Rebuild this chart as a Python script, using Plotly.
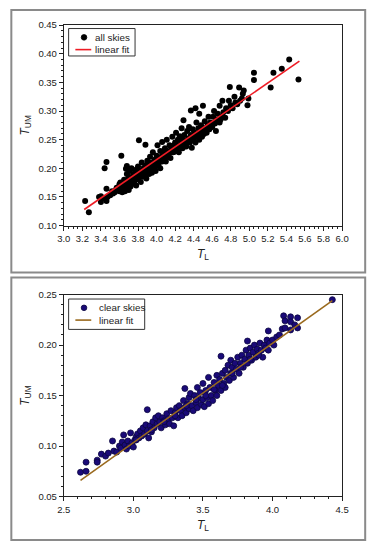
import plotly.graph_objects as go

# ---------------- data: all skies (top panel) ----------------
all_tl = [3.23, 3.27, 3.38, 3.40, 3.40, 3.42, 3.44, 3.46, 3.46, 3.46, 3.47, 3.50, 3.52, 3.53, 3.55, 3.56,
          3.58, 3.60, 3.60, 3.61, 3.62, 3.62, 3.63, 3.64, 3.65, 3.65, 3.66, 3.66, 3.67, 3.68, 3.68, 3.69,
          3.69, 3.70, 3.70, 3.71, 3.72, 3.72, 3.73, 3.74, 3.74, 3.75, 3.76, 3.77, 3.77, 3.78, 3.79, 3.80,
          3.80, 3.81, 3.82, 3.82, 3.83, 3.84, 3.85, 3.85, 3.86, 3.87, 3.88, 3.88, 3.89, 3.90, 3.90, 3.91,
          3.92, 3.93, 3.94, 3.95, 3.95, 3.96, 3.97, 3.98, 3.98, 3.99, 4.00, 4.00, 4.01, 4.02, 4.03, 4.04,
          4.04, 4.05, 4.06, 4.06, 4.07, 4.08, 4.09, 4.10, 4.10, 4.11, 4.12, 4.13, 4.14, 4.15, 4.16, 4.17,
          4.18, 4.19, 4.20, 4.20, 4.21, 4.22, 4.23, 4.24, 4.25, 4.26, 4.27, 4.28, 4.28, 4.29, 4.30, 4.31,
          4.32, 4.33, 4.34, 4.35, 4.36, 4.37, 4.37, 4.38, 4.39, 4.40, 4.41, 4.42, 4.42, 4.43, 4.44, 4.45,
          4.46, 4.46, 4.47, 4.48, 4.49, 4.50, 4.50, 4.51, 4.52, 4.53, 4.54, 4.55, 4.56, 4.57, 4.58, 4.60,
          4.61, 4.62, 4.63, 4.64, 4.65, 4.66, 4.68, 4.68, 4.70, 4.71, 4.72, 4.74, 4.75, 4.77, 4.78, 4.79,
          4.80, 4.82, 4.84, 4.85, 4.87, 4.89, 4.90, 4.92, 4.93, 4.94, 4.98, 4.99, 5.05, 5.05, 5.23, 5.26,
          5.35, 5.43, 5.53,
          3.57, 3.63, 3.68, 3.72, 3.76, 3.79, 3.84, 3.87, 3.91, 3.94, 3.97, 4.02, 4.05, 4.08, 4.12, 4.15,
          4.18, 4.22, 4.25, 4.29, 4.33, 4.36, 4.40, 4.44, 4.48, 4.52, 4.56, 4.60, 4.64, 4.69,
          3.66, 3.74, 3.81, 3.89, 3.96, 4.03, 4.11, 4.19, 4.27, 4.34, 4.41, 4.47, 4.54, 4.61]
all_tum = [0.143, 0.123, 0.150, 0.141, 0.151, 0.147, 0.200, 0.211, 0.164, 0.143, 0.150, 0.153, 0.160, 0.156, 0.158, 0.162,
           0.165, 0.172, 0.160, 0.175, 0.222, 0.168, 0.158, 0.163, 0.170, 0.180, 0.176, 0.160, 0.199, 0.204, 0.190, 0.172,
           0.165, 0.185, 0.162, 0.195, 0.178, 0.168, 0.200, 0.183, 0.173, 0.190, 0.176, 0.197, 0.186, 0.170, 0.192, 0.181,
           0.203, 0.249, 0.188, 0.196, 0.176, 0.210, 0.195, 0.185, 0.200, 0.190, 0.241, 0.205, 0.182, 0.198, 0.213, 0.205,
           0.190, 0.220, 0.200, 0.210, 0.192, 0.228, 0.207, 0.215, 0.200, 0.195, 0.222, 0.210, 0.240, 0.205, 0.215, 0.230,
           0.200, 0.220, 0.246, 0.212, 0.228, 0.218, 0.235, 0.222, 0.212, 0.250, 0.230, 0.225, 0.240, 0.218, 0.232, 0.255,
           0.228, 0.240, 0.245, 0.230, 0.262, 0.236, 0.250, 0.228, 0.256, 0.242, 0.270, 0.235, 0.250, 0.284, 0.258, 0.245,
           0.238, 0.265, 0.252, 0.272, 0.245, 0.301, 0.258, 0.236, 0.268, 0.250, 0.262, 0.305, 0.245, 0.280, 0.256, 0.270,
           0.295, 0.250, 0.262, 0.275, 0.255, 0.309, 0.268, 0.260, 0.282, 0.270, 0.262, 0.275, 0.290, 0.268, 0.280, 0.272,
           0.290, 0.300, 0.278, 0.265, 0.285, 0.295, 0.309, 0.280, 0.290, 0.318, 0.298, 0.288, 0.305, 0.300, 0.318, 0.342,
           0.310, 0.305, 0.325, 0.315, 0.312, 0.341, 0.318, 0.322, 0.330, 0.336, 0.310, 0.322, 0.367, 0.354, 0.341, 0.367,
           0.374, 0.390, 0.355,
           0.166, 0.172, 0.178, 0.180, 0.186, 0.188, 0.192, 0.198, 0.200, 0.205, 0.210, 0.212, 0.218, 0.222, 0.224, 0.228,
           0.232, 0.232, 0.240, 0.242, 0.244, 0.252, 0.256, 0.260, 0.262, 0.268, 0.272, 0.278, 0.282, 0.285,
           0.167, 0.176, 0.186, 0.194, 0.203, 0.211, 0.220, 0.229, 0.238, 0.246, 0.254, 0.262, 0.270, 0.278]
all_fit_tl = [3.22, 5.54]
all_fit_tum = [0.128, 0.387]

# ---------------- data: clear skies (bottom panel) ----------------
clr_tl = [2.62, 2.66, 2.66, 2.74, 2.74, 2.77, 2.80, 2.82, 2.85, 2.86, 2.88, 2.90, 2.91, 2.92, 2.93, 2.94,
          2.95, 2.96, 2.97, 2.98, 2.99, 3.00, 3.01, 3.02, 3.03, 3.04, 3.05, 3.06, 3.07, 3.08, 3.09, 3.10,
          3.10, 3.11, 3.12, 3.13, 3.14, 3.15, 3.16, 3.17, 3.18, 3.19, 3.20, 3.21, 3.22, 3.23, 3.24, 3.25,
          3.26, 3.27, 3.28, 3.29, 3.30, 3.31, 3.32, 3.33, 3.34, 3.35, 3.36, 3.37, 3.37, 3.38, 3.39, 3.40,
          3.40, 3.41, 3.42, 3.43, 3.44, 3.45, 3.46, 3.46, 3.47, 3.48, 3.49, 3.50, 3.50, 3.51, 3.52, 3.53,
          3.54, 3.54, 3.55, 3.56, 3.57, 3.58, 3.59, 3.60, 3.60, 3.61, 3.62, 3.63, 3.63, 3.64, 3.65, 3.66,
          3.66, 3.67, 3.68, 3.69, 3.70, 3.70, 3.71, 3.72, 3.73, 3.74, 3.75, 3.76, 3.77, 3.78, 3.79, 3.80,
          3.81, 3.82, 3.82, 3.83, 3.84, 3.85, 3.86, 3.87, 3.88, 3.89, 3.90, 3.91, 3.92, 3.93, 3.94, 3.95,
          3.96, 3.97, 3.97, 3.98, 4.00, 4.01, 4.03, 4.05, 4.07, 4.08, 4.09, 4.09, 4.13, 4.13, 4.13, 4.16,
          4.18, 4.18, 4.43,
          3.02, 3.13, 3.22, 3.30, 3.38, 3.45, 3.52, 3.58, 3.64, 3.71, 3.77, 3.84, 3.90]
clr_tum = [0.074, 0.084, 0.075, 0.086, 0.084, 0.092, 0.090, 0.093, 0.105, 0.095, 0.094, 0.100, 0.098, 0.104, 0.111, 0.101,
           0.097, 0.105, 0.100, 0.113, 0.103, 0.099, 0.106, 0.109, 0.112, 0.108, 0.115, 0.110, 0.118, 0.112, 0.121, 0.136,
           0.115, 0.108, 0.120, 0.114, 0.124, 0.118, 0.128, 0.122, 0.130, 0.124, 0.118, 0.128, 0.125, 0.121, 0.132, 0.127,
           0.122, 0.135, 0.128, 0.120, 0.133, 0.138, 0.128, 0.140, 0.135, 0.130, 0.145, 0.157, 0.138, 0.133, 0.142, 0.148,
           0.137, 0.152, 0.140, 0.135, 0.150, 0.143, 0.158, 0.138, 0.147, 0.153, 0.141, 0.162, 0.146, 0.139, 0.155, 0.148,
           0.168, 0.142, 0.158, 0.150, 0.145, 0.163, 0.155, 0.170, 0.150, 0.160, 0.166, 0.189, 0.155, 0.172, 0.162, 0.175,
           0.158, 0.168, 0.180, 0.165, 0.185, 0.172, 0.178, 0.168, 0.182, 0.176, 0.188, 0.172, 0.182, 0.190, 0.178, 0.186,
           0.195, 0.204, 0.182, 0.190, 0.197, 0.185, 0.193, 0.200, 0.188, 0.196, 0.192, 0.202, 0.195, 0.188, 0.200, 0.197,
           0.205, 0.214, 0.195, 0.202, 0.205, 0.200, 0.208, 0.210, 0.216, 0.229, 0.224, 0.217, 0.228, 0.223, 0.215, 0.220,
           0.227, 0.217, 0.245,
           0.106, 0.116, 0.124, 0.130, 0.140, 0.146, 0.150, 0.156, 0.160, 0.172, 0.178, 0.186, 0.190]
clr_fit_tl = [2.62, 4.43]
clr_fit_tum = [0.066, 0.244]

legend_top = ["all skies", "linear fit"]
legend_bot = ["clear skies", "linear fit"]

W, H = 377, 550
FONT = "Liberation Sans, Arial, sans-serif"
TXT = "#222"

TOP_DOT = "black"
TOP_LINE = "#ee1c25"
BOT_DOT = "#1a0a78"
BOT_EDGE = "#0b0640"
BOT_LINE = "#9a6a1e"


def fx(v):
    return v / W


def fy(v):
    return 1 - v / H


fig = go.Figure()

fig.add_trace(go.Scatter(x=all_tl, y=all_tum, mode="markers", name=legend_top[0],
                         marker=dict(color=TOP_DOT, size=6, line=dict(width=0)),
                         xaxis="x", yaxis="y", showlegend=False))
fig.add_trace(go.Scatter(x=all_fit_tl, y=all_fit_tum, mode="lines", name=legend_top[1],
                         line=dict(color=TOP_LINE, width=1.6),
                         xaxis="x", yaxis="y", showlegend=False))
fig.add_trace(go.Scatter(x=clr_tl, y=clr_tum, mode="markers", name=legend_bot[0],
                         marker=dict(color=BOT_DOT, size=6, line=dict(color=BOT_EDGE, width=0.8)),
                         xaxis="x2", yaxis="y2", showlegend=False))
fig.add_trace(go.Scatter(x=clr_fit_tl, y=clr_fit_tum, mode="lines", name=legend_bot[1],
                         line=dict(color=BOT_LINE, width=1.6),
                         xaxis="x2", yaxis="y2", showlegend=False))

xdom = [fx(59), fx(348)]
top_dom = [fy(224), fy(19.5)]
bot_dom = [fy(500.5), fy(294.5)]

axis_common = dict(showline=True, linecolor=TXT, linewidth=1, mirror=True,
                   ticks="outside", ticklen=4, tickcolor=TXT, tickwidth=1,
                   showgrid=False, zeroline=False,
                   tickfont=dict(family=FONT, size=9.5, color=TXT))
title_font = dict(family=FONT, size=12, color=TXT)

# ---- panel frames and hand-built legends (paper coordinates) ----
shapes = [
    dict(type="rect", xref="paper", yref="paper",
         x0=fx(4.5), x1=fx(372), y0=fy(272), y1=fy(4),
         line=dict(color="#8a8a8a", width=2), fillcolor="rgba(0,0,0,0)", layer="below"),
    dict(type="rect", xref="paper", yref="paper",
         x0=fx(4.5), x1=fx(372), y0=fy(545), y1=fy(277),
         line=dict(color="#8a8a8a", width=2), fillcolor="rgba(0,0,0,0)", layer="below"),
]
annotations = []


def add_legend(x0, y0, x1, y1, labels, dot_color, dot_edge, line_color, text_x):
    shapes.append(dict(type="rect", xref="paper", yref="paper",
                       x0=fx(x0), x1=fx(x1), y0=fy(y1), y1=fy(y0),
                       line=dict(color="#333", width=1), fillcolor="white"))
    r1 = y0 + 9.0
    r2 = y0 + 21.5
    shapes.append(dict(type="circle", xref="paper", yref="paper",
                       xsizemode="pixel", ysizemode="pixel",
                       xanchor=fx(80), yanchor=fy(r1),
                       x0=-2.8, x1=2.8, y0=-2.8, y1=2.8,
                       line=dict(color=dot_edge, width=0.8), fillcolor=dot_color))
    shapes.append(dict(type="line", xref="paper", yref="paper",
                       x0=fx(71), x1=fx(87.5), y0=fy(r2), y1=fy(r2),
                       line=dict(color=line_color, width=1.6)))
    for lab, r in zip(labels, [r1, r2]):
        annotations.append(dict(text=lab, xref="paper", yref="paper",
                                x=fx(text_x), y=fy(r), xanchor="left", yanchor="middle",
                                borderpad=0, showarrow=False,
                                font=dict(family=FONT, size=9.8, color=TXT)))


add_legend(64, 23, 133, 51, legend_top, TOP_DOT, TOP_DOT, TOP_LINE, 90)
add_legend(64, 299, 143, 330, legend_bot, BOT_DOT, BOT_EDGE, BOT_LINE, 94)

fig.update_layout(
    width=W, height=H,
    autosize=False,
    margin=dict(l=0, r=0, t=0, b=0),
    paper_bgcolor="white", plot_bgcolor="white",
    showlegend=False,
    xaxis=dict(domain=xdom, anchor="y", range=[3.0, 6.0], dtick=0.2, tick0=3.0, tickformat=".1f",
               minor=dict(dtick=0.05, ticks="outside", ticklen=2, tickcolor=TXT),
               title=dict(text="<i>T</i><sub>L</sub>", font=title_font, standoff=6),
               **axis_common),
    yaxis=dict(domain=top_dom, anchor="x", range=[0.10, 0.45], dtick=0.05, tick0=0.10, tickformat=".2f",
               minor=dict(dtick=0.01, ticks="outside", ticklen=2, tickcolor=TXT),
               title=dict(text="<i>T</i><sub>UM</sub>", font=title_font, standoff=6),
               **axis_common),
    xaxis2=dict(domain=xdom, anchor="y2", range=[2.5, 4.5], dtick=0.5, tick0=2.5, tickformat=".1f",
                minor=dict(dtick=0.1, ticks="outside", ticklen=2, tickcolor=TXT),
                title=dict(text="<i>T</i><sub>L</sub>", font=title_font, standoff=6),
                **axis_common),
    yaxis2=dict(domain=bot_dom, anchor="x2", range=[0.05, 0.25], dtick=0.05, tick0=0.05, tickformat=".2f",
                minor=dict(dtick=0.01, ticks="outside", ticklen=2, tickcolor=TXT),
                title=dict(text="<i>T</i><sub>UM</sub>", font=title_font, standoff=6),
                **axis_common),
    shapes=shapes,
    annotations=annotations,
)

page_fix = ("var s=document.documentElement.style, b=document.body.style;"
            "s.margin='0';s.padding='0';s.overflow='hidden';"
            "b.margin='0';b.padding='0';b.overflow='hidden';")
fig.write_html("out.html", config={"displayModeBar": False, "responsive": False},
               default_width="377px", default_height="550px",
               post_script=page_fix)
